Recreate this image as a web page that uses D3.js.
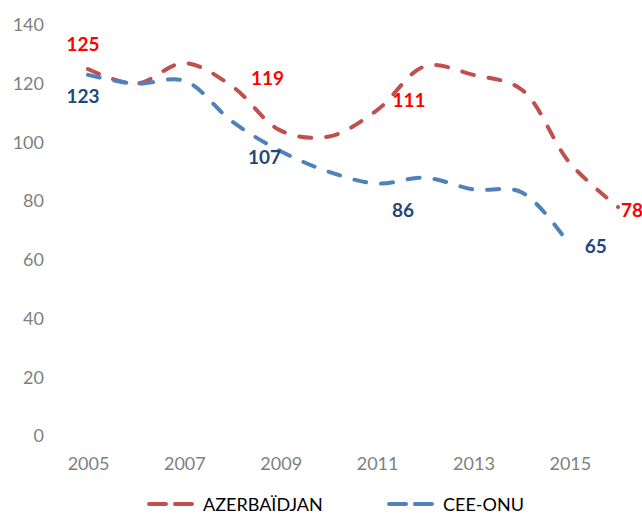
<!DOCTYPE html>
<html>
<head>
<meta charset="utf-8">
<script src="https://cdn.jsdelivr.net/npm/d3@7"></script>
<style>
  html, body { margin: 0; padding: 0; background: #fff; }
  svg { display: block; font-family: Lato, "Open Sans", sans-serif; }
</style>
</head>
<body>
<svg id="chart" width="642" height="514"></svg>
<script>
const years = [2005, 2006, 2007, 2008, 2009, 2010, 2011, 2012, 2013, 2014, 2015, 2016];
const azerbaijan = [125, 120, 127, 119, 104, 102, 111, 126, 123, 118, 93, 78];
const ceeOnu = [123, 120, 121, 107, 97, 90, 86, 88, 84, 83, 65, null];
const xTickLabels = [2005, 2007, 2009, 2011, 2013, 2015];
const yTicks = [0, 20, 40, 60, 80, 100, 120, 140];
const seriesNames = ["AZERBAÏDJAN", "CEE-ONU"];
// data labels: series index, year, text offsets
const dataLabels = [
  {s: 0, year: 2005, dx: -5, dy: -26},
  {s: 1, year: 2005, dx: -5, dy: 21},
  {s: 0, year: 2008, dx: 35, dy: -9},
  {s: 1, year: 2008, dx: 32, dy: 35},
  {s: 0, year: 2011, dx: 32, dy: -11},
  {s: 1, year: 2011, dx: 26, dy: 26},
  {s: 0, year: 2016, dx: 14, dy: 2},
  {s: 1, year: 2015, dx: 26, dy: 0}
];

const lineColors = ["#C0504D", "#4F81BD"];
const labelColors = ["#FF0000", "#1F497D"];
const seriesData = [azerbaijan, ceeOnu];

const svg = d3.select("#chart");
const x = d3.scalePoint().domain(years).range([88, 618]);
const y = d3.scaleLinear().domain([0, 140]).range([436, 25]);

// Y axis labels
const yAxis = d3.axisLeft(y).tickValues(yTicks).tickSize(0).tickPadding(0);
const gy = svg.append("g").attr("transform", "translate(44,0)").call(yAxis);
gy.select(".domain").remove();
gy.selectAll("text").attr("fill", "#7F7F7F").style("font-size", "18px")
  .style("font-family", "Lato, 'Open Sans', sans-serif");

// X axis labels
const xAxis = d3.axisBottom(x).tickValues(xTickLabels).tickSize(0).tickPadding(0).tickFormat(d3.format("d"));
const gx = svg.append("g").attr("transform", "translate(0,457)").call(xAxis);
gx.select(".domain").remove();
gx.selectAll("text").attr("fill", "#7F7F7F").style("font-size", "18px")
  .style("font-family", "Lato, 'Open Sans', sans-serif").attr("dy", "0.71em");

// Lines
const line = d3.line()
  .defined(d => d[1] != null)
  .x(d => x(d[0]))
  .y(d => y(d[1]))
  .curve(d3.curveCatmullRom.alpha(0.5));

seriesData.forEach((vals, i) => {
  const pts = years.map((yr, j) => [yr, vals[j]]).filter(p => p[1] != null);
  svg.append("path")
    .datum(pts)
    .attr("d", line)
    .attr("fill", "none")
    .attr("stroke", lineColors[i])
    .attr("stroke-width", 4)
    .attr("stroke-linecap", "round")
    .attr("stroke-dasharray", "12,15");
});

// Data labels
svg.append("g").selectAll("text")
  .data(dataLabels)
  .join("text")
  .attr("x", d => x(d.year) + d.dx)
  .attr("y", d => y(seriesData[d.s][years.indexOf(d.year)]) + d.dy)
  .attr("text-anchor", "middle")
  .attr("dominant-baseline", "central")
  .attr("fill", d => labelColors[d.s])
  .style("font-size", "19px")
  .style("font-weight", "bold")
  .text(d => seriesData[d.s][years.indexOf(d.year)]);

// Legend
const legendX = [147, 387];
seriesNames.forEach((name, i) => {
  const g = svg.append("g").attr("transform", `translate(${legendX[i]},504)`);
  g.append("line")
    .attr("x1", 2).attr("x2", 46).attr("y1", 0).attr("y2", 0)
    .attr("stroke", lineColors[i]).attr("stroke-width", 4)
    .attr("stroke-linecap", "round")
    .attr("stroke-dasharray", "17,9");
  g.append("text")
    .attr("x", 56).attr("y", 0)
    .attr("dominant-baseline", "central")
    .attr("fill", "#000")
    .style("font-size", "18px")
    .text(name);
});
</script>
</body>
</html>
